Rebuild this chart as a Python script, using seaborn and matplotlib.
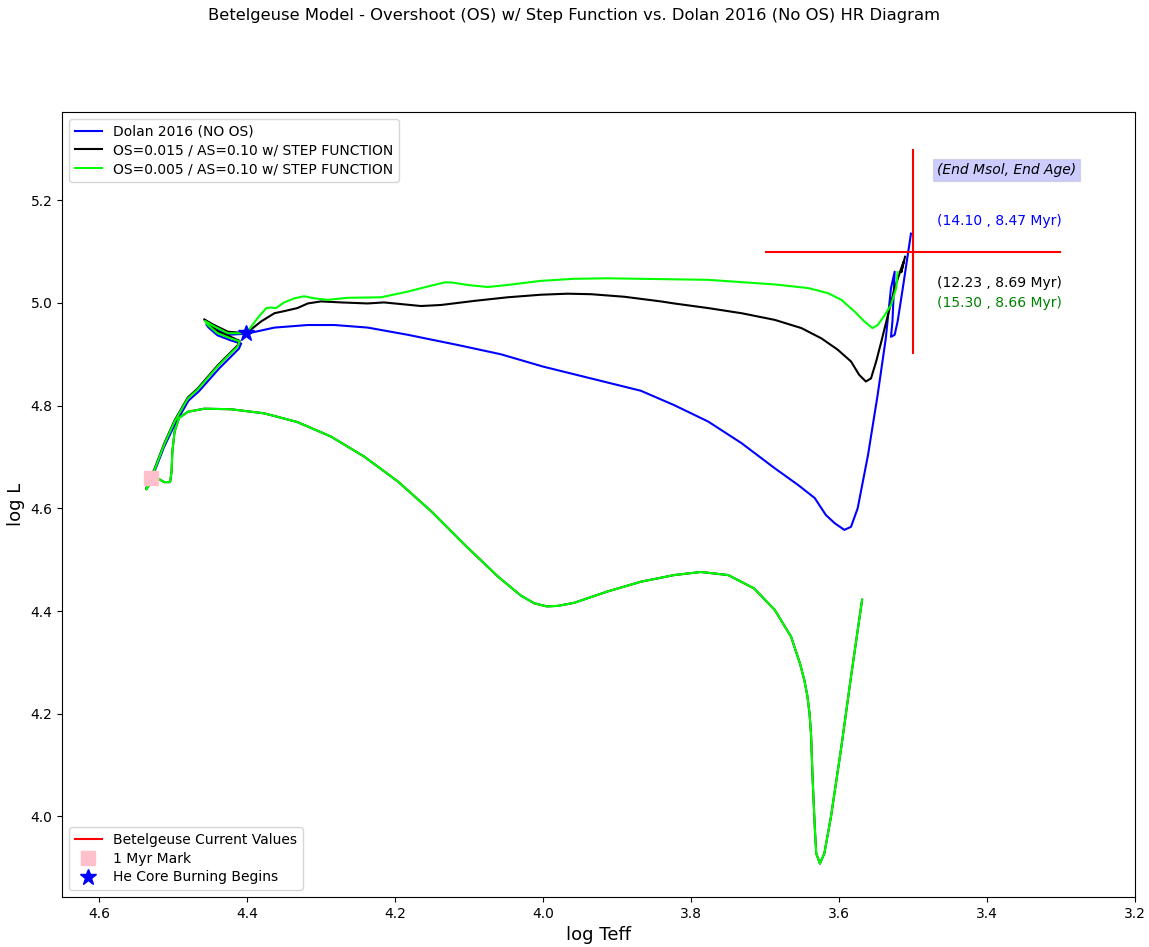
import matplotlib
matplotlib.use("Agg")
import matplotlib.pyplot as plt
from matplotlib.lines import Line2D
import numpy as np
import pandas as pd
import seaborn as sns

# ---- Evolutionary tracks (log Teff, log L) ----
# Pre-main-sequence contraction shared by both overshoot models
pre_ms_logT = [3.569, 3.584, 3.597, 3.611, 3.620, 3.626, 3.631, 3.633, 3.636, 3.638,
               3.640, 3.643, 3.647, 3.653, 3.665, 3.687, 3.715, 3.750, 3.787, 3.823,
               3.868, 3.913, 3.958, 3.980, 3.995, 4.012, 4.030, 4.061, 4.106, 4.151,
               4.196, 4.242, 4.287, 4.332, 4.377, 4.422, 4.458, 4.480, 4.492, 4.498,
               4.501, 4.502, 4.504, 4.512, 4.519, 4.528, 4.536]
pre_ms_logL = [4.422, 4.272, 4.136, 4.000, 3.928, 3.908, 3.928, 3.980, 4.078, 4.160,
               4.200, 4.235, 4.265, 4.298, 4.350, 4.402, 4.444, 4.470, 4.476, 4.470,
               4.457, 4.438, 4.416, 4.410, 4.409, 4.415, 4.430, 4.467, 4.529, 4.594,
               4.652, 4.701, 4.740, 4.768, 4.785, 4.793, 4.794, 4.788, 4.776, 4.749,
               4.710, 4.672, 4.651, 4.651, 4.657, 4.656, 4.637]

# Dolan 2016 (no overshoot)
dolan_logT = [4.534, 4.525, 4.512, 4.497, 4.479, 4.465, 4.438, 4.420, 4.411, 4.408,
              4.422, 4.440, 4.452, 4.455, 4.444, 4.426, 4.401, 4.363, 4.318, 4.282,
              4.237, 4.183, 4.115, 4.057, 4.000, 3.868, 3.823, 3.777, 3.732, 3.687,
              3.656, 3.633, 3.618, 3.606, 3.593, 3.584, 3.575, 3.561, 3.548, 3.537,
              3.530, 3.525, 3.528, 3.530, 3.525, 3.521, 3.514, 3.503]
dolan_logL = [4.652, 4.672, 4.720, 4.765, 4.810, 4.828, 4.872, 4.898, 4.911, 4.921,
              4.927, 4.937, 4.952, 4.958, 4.950, 4.938, 4.940, 4.952, 4.957, 4.957,
              4.952, 4.938, 4.918, 4.900, 4.876, 4.829, 4.801, 4.769, 4.727, 4.678,
              4.646, 4.620, 4.587, 4.571, 4.558, 4.564, 4.600, 4.704, 4.821, 4.931,
              5.029, 5.061, 4.964, 4.934, 4.938, 4.964, 5.029, 5.135]

# OS=0.015 / AS=0.10 (main sequence onward)
os015_logT = [4.536, 4.533, 4.525, 4.512, 4.498, 4.480, 4.467, 4.440, 4.422, 4.413,
              4.410, 4.422, 4.440, 4.452, 4.458, 4.446, 4.426, 4.401, 4.381, 4.363,
              4.350, 4.332, 4.318, 4.300, 4.273, 4.237, 4.215, 4.165, 4.138, 4.093,
              4.048, 4.003, 3.967, 3.935, 3.890, 3.841, 3.823, 3.777, 3.732, 3.687,
              3.651, 3.624, 3.602, 3.584, 3.573, 3.564, 3.557, 3.550, 3.543, 3.534,
              3.525, 3.516, 3.513, 3.516, 3.511]
os015_logL = [4.640, 4.652, 4.677, 4.726, 4.771, 4.816, 4.833, 4.878, 4.904, 4.917,
              4.926, 4.934, 4.945, 4.960, 4.968, 4.958, 4.944, 4.941, 4.964, 4.980,
              4.984, 4.990, 4.999, 5.003, 5.001, 4.999, 5.001, 4.994, 4.996, 5.004,
              5.011, 5.016, 5.018, 5.017, 5.012, 5.003, 4.999, 4.990, 4.980, 4.967,
              4.951, 4.931, 4.909, 4.886, 4.860, 4.847, 4.853, 4.886, 4.925, 4.977,
              5.029, 5.068, 5.080, 5.060, 5.090]

# OS=0.005 / AS=0.10 (main sequence onward)
os005_logT = [4.533, 4.525, 4.512, 4.498, 4.480, 4.467, 4.440, 4.422, 4.413, 4.410,
              4.422, 4.440, 4.453, 4.457, 4.444, 4.426, 4.401, 4.386, 4.374, 4.368,
              4.361, 4.350, 4.336, 4.323, 4.309, 4.291, 4.264, 4.219, 4.183, 4.156,
              4.133, 4.124, 4.102, 4.075, 4.048, 4.003, 3.958, 3.913, 3.868, 3.777,
              3.687, 3.642, 3.615, 3.597, 3.579, 3.566, 3.555, 3.548, 3.539, 3.530,
              3.523, 3.521]
os005_logL = [4.650, 4.675, 4.724, 4.769, 4.814, 4.831, 4.876, 4.902, 4.915, 4.925,
              4.931, 4.941, 4.957, 4.965, 4.954, 4.941, 4.941, 4.970, 4.990, 4.991,
              4.990, 5.001, 5.009, 5.013, 5.009, 5.006, 5.010, 5.011, 5.022, 5.032,
              5.040, 5.040, 5.035, 5.031, 5.035, 5.043, 5.047, 5.048, 5.047, 5.045,
              5.036, 5.029, 5.019, 5.006, 4.983, 4.964, 4.951, 4.957, 4.975, 4.996,
              5.029, 5.060]

# Betelgeuse observed values and marks
betel_logT = 3.5
betel_logL = 5.1
betel_logT_span = [3.7, 3.3]
betel_logL_span = [4.9, 5.3]
myr1_mark = (4.53, 4.66)
he_core_mark = (4.401, 4.941)

end_labels = ["(14.10 , 8.47 Myr)", "(12.23 , 8.69 Myr)", "(15.30 , 8.66 Myr)"]
end_label_colors = ["blue", "black", "green"]
end_label_logL = [5.160, 5.039, 5.000]

tracks = pd.DataFrame({
    "logT": dolan_logT + pre_ms_logT + os015_logT + pre_ms_logT + os005_logT,
    "logL": dolan_logL + pre_ms_logL + os015_logL + pre_ms_logL + os005_logL,
    "model": (["dolan"] * len(dolan_logT)
              + ["os015"] * (len(pre_ms_logT) + len(os015_logT))
              + ["os005"] * (len(pre_ms_logT) + len(os005_logT))),
})

fig = plt.figure(figsize=(11.49, 9.47), dpi=100)
ax = fig.add_axes([0.054, 0.0528, 0.934, 0.829])

track_colors = {"dolan": "blue", "os015": "black", "os005": "lime"}
for name in ["dolan", "os015", "os005"]:
    sub = tracks[tracks["model"] == name]
    sns.lineplot(data=sub, x="logT", y="logL", sort=False, estimator=None,
                 color=track_colors[name], linewidth=1.5, ax=ax, legend=False)

ax.vlines(betel_logT, betel_logL_span[0], betel_logL_span[1], color="red", linewidth=1.5)
ax.hlines(betel_logL, betel_logT_span[0], betel_logT_span[1], color="red", linewidth=1.5)

ax.plot(*myr1_mark, marker="s", color="pink", markersize=10, linestyle="", zorder=5)
ax.plot(*he_core_mark, marker="*", color="blue", markersize=12, linestyle="", zorder=6)

ax.text(3.4676, 5.259, "(End Msol, End Age)", fontsize=10, style="italic", va="center",
        bbox=dict(facecolor="blue", alpha=0.2, edgecolor="gray", pad=3))
for lbl, col, yv in zip(end_labels, end_label_colors, end_label_logL):
    ax.text(3.4676, yv, lbl, color=col, fontsize=10, va="center")

ax.set_xlim(4.65, 3.2)
ax.set_ylim(3.843, 5.372)
ax.set_xticks(np.arange(4.6, 3.19, -0.2))
ax.set_yticks(np.arange(4.0, 5.21, 0.2))
ax.set_xlabel("log Teff", fontsize=13)
ax.set_ylabel("log L", fontsize=13)

track_handles = [
    Line2D([], [], color="blue", linewidth=1.5, label="Dolan 2016 (NO OS)"),
    Line2D([], [], color="black", linewidth=1.5, label="OS=0.015 / AS=0.10 w/ STEP FUNCTION"),
    Line2D([], [], color="lime", linewidth=1.5, label="OS=0.005 / AS=0.10 w/ STEP FUNCTION"),
]
mark_handles = [
    Line2D([], [], color="red", linewidth=1.5, label="Betelgeuse Current Values"),
    Line2D([], [], color="pink", marker="s", markersize=10, linestyle="", label="1 Myr Mark"),
    Line2D([], [], color="blue", marker="*", markersize=12, linestyle="", label="He Core Burning Begins"),
]
leg1 = ax.legend(handles=track_handles, loc="upper left", fontsize=10, labelspacing=0.35)
ax.add_artist(leg1)
ax.legend(handles=mark_handles, loc="lower left", fontsize=10, labelspacing=0.35)

fig.suptitle("Betelgeuse Model - Overshoot (OS) w/ Step Function vs. Dolan 2016 (No OS) HR Diagram",
             fontsize=11.8, y=0.992)

fig.savefig("out.png", dpi=100)
